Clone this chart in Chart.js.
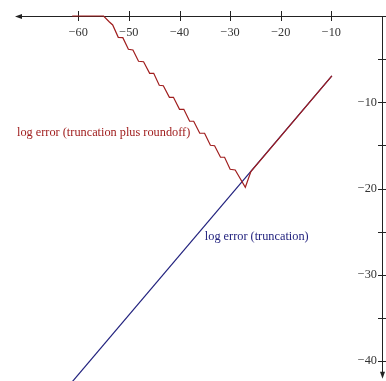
<!DOCTYPE html>
<html>
<head>
<meta charset="utf-8">
<script src="https://cdn.jsdelivr.net/npm/chart.js@4/dist/chart.umd.min.js"></script>
<style>
  html, body { margin: 0; padding: 0; background: #fff; }
  #wrap { width: 386px; height: 381px; position: relative; }
</style>
</head>
<body>
<div id="wrap"><canvas id="errChart"></canvas></div>
<script>
// log error (truncation plus roundoff) - staircase curve
const roundX = [-61.2, -55.0, -53.9, -53.2, -52.1, -51.2, -50.1, -49.2, -48.1, -47.1, -45.9, -45.1, -44.0, -43.2,
  -42.0, -41.2, -40.0, -39.15, -38.0, -37.2, -36.0, -35.05, -33.9, -33.07, -31.9, -31.1, -30.0, -29.0, -27.0, -25.9, -9.9];
const roundY = [0, 0, -0.66, -1.04, -2.47, -2.51, -3.86, -3.94, -5.25, -5.30, -6.64, -6.64, -8.03, -8.08,
  -9.42, -9.42, -10.81, -10.81, -12.2, -12.2, -13.59, -13.59, -14.98, -15.03, -16.37, -16.37, -17.76, -17.84, -19.85, -18.04, -6.95];

// log error (truncation) - straight line
const truncX = [-61.5, -9.9];
const truncY = [-42.6, -6.95];

const xTicks = [-60, -50, -40, -30, -20, -10];
const yTicks = [-5, -10, -15, -20, -25, -30, -35, -40];
const yLabels = [-10, -20, -30, -40];

const RED = '#a01e1e';
const NAVY = '#22227e';
const FONT = '"Liberation Serif", "DejaVu Serif", serif';

const toPts = (xs, ys) => xs.map((x, i) => ({ x: x, y: ys[i] }));
const minus = v => (v < 0 ? '\u2212' + Math.abs(v) : String(v));

// axes drawn by hand: x axis along y=0 (top, arrow to the left), y axis along x=0 (right, arrow down)
const crossAxes = {
  id: 'crossAxes',
  beforeDatasetsDraw(chart) {
    const { ctx, scales: { x, y }, width } = chart;
    const x0 = x.getPixelForValue(0);
    const y0 = y.getPixelForValue(0);
    const left = x.getPixelForValue(x.min);
    const yEnd = y.getPixelForValue(-42.05);
    const ax = Math.round(x0) + 0.5;
    const ay = Math.round(y0) + 0.5;
    ctx.save();
    ctx.strokeStyle = '#222';
    ctx.fillStyle = '#222';
    ctx.lineWidth = 1;

    ctx.beginPath();
    ctx.moveTo(left + 4, ay);
    ctx.lineTo(width, ay);
    ctx.moveTo(ax, y0);
    ctx.lineTo(ax, yEnd - 4);
    ctx.stroke();

    // arrow heads
    ctx.beginPath();
    ctx.moveTo(left, ay);
    ctx.lineTo(left + 7, ay - 2.5);
    ctx.lineTo(left + 7, ay + 2.5);
    ctx.closePath();
    ctx.fill();
    ctx.beginPath();
    ctx.moveTo(ax, yEnd);
    ctx.lineTo(ax - 2.5, yEnd - 7);
    ctx.lineTo(ax + 2.5, yEnd - 7);
    ctx.closePath();
    ctx.fill();

    ctx.beginPath();
    xTicks.forEach(v => {
      const px = Math.round(x.getPixelForValue(v)) + 0.5;
      ctx.moveTo(px, y0 - 5);
      ctx.lineTo(px, y0 + 5);
    });
    yTicks.forEach(v => {
      const py = Math.round(y.getPixelForValue(v)) + 0.5;
      ctx.moveTo(x0 - 4, py);
      ctx.lineTo(x0 + 4, py);
    });
    ctx.stroke();

    ctx.font = '12.3px ' + FONT;
    ctx.fillStyle = '#333';
    ctx.textAlign = 'center';
    ctx.textBaseline = 'middle';
    xTicks.forEach(v => ctx.fillText(minus(v), x.getPixelForValue(v), y0 + 17));
    ctx.textAlign = 'right';
    yLabels.forEach(v => ctx.fillText(minus(v), x0 - 5, y.getPixelForValue(v)));

    // curve labels
    ctx.textBaseline = 'alphabetic';
    ctx.textAlign = 'left';
    ctx.fillStyle = RED;
    ctx.fillText('log error (truncation plus roundoff)', x.getPixelForValue(-72.1), y.getPixelForValue(-13.9));
    ctx.fillStyle = NAVY;
    ctx.fillText('log error (truncation)', x.getPixelForValue(-35.0), y.getPixelForValue(-25.96));
    ctx.restore();
  }
};

const errChart = new Chart(document.getElementById('errChart').getContext('2d'), {
  type: 'scatter',
  data: {
    datasets: [{
      label: 'log error (truncation plus roundoff)',
      data: toPts(roundX, roundY),
      showLine: true,
      borderColor: RED,
      borderWidth: 1.2,
      pointRadius: 0,
      tension: 0,
      clip: 4
    }, {
      label: 'log error (truncation)',
      data: toPts(truncX, truncY),
      showLine: true,
      borderColor: NAVY,
      borderWidth: 1.2,
      pointRadius: 0,
      tension: 0,
      clip: 4
    }]
  },
  options: {
    animation: false,
    responsive: true,
    maintainAspectRatio: false,
    layout: { padding: { left: 15, right: 4, top: 16, bottom: 0 } },
    scales: {
      x: { type: 'linear', min: -72.5, max: 0, display: false },
      y: { type: 'linear', min: -42.3, max: 0, display: false }
    },
    plugins: {
      legend: { display: false },
      tooltip: { enabled: false }
    }
  },
  plugins: [crossAxes]
});
</script>
</body>
</html>
